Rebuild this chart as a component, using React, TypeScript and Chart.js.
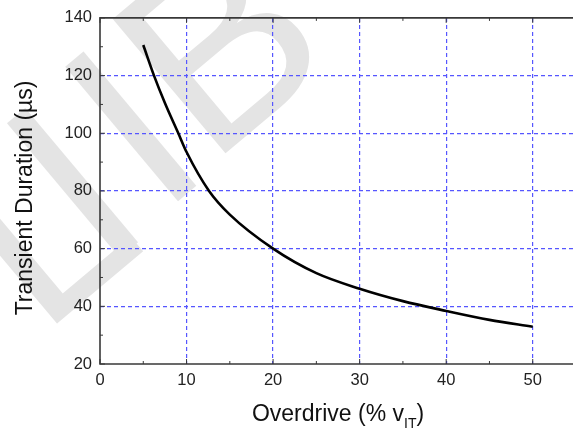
import React, { useEffect, useRef } from "react";
import { Chart, registerables } from "chart.js";

Chart.register(...registerables);

// Transient duration vs. overdrive
const overdrive = [5, 6.24, 7.5, 9.05, 10, 12.6, 15, 20, 25, 30, 35, 40, 45, 50];
const duration = [130.6, 120, 110.5, 100, 93.5, 80, 71.8, 60, 51.5, 46.1, 41.8, 38.4, 35.3, 32.9];
const xTicks = [0, 10, 20, 30, 40, 50];
const yTicks = [20, 40, 60, 80, 100, 120, 140];
const xMinor = [5, 15, 25, 35, 45];
const yMinor = [30, 50, 70, 90, 110, 130];

const X_MIN = 0;
const X_MAX = 55;
const Y_MIN = 20;
const Y_MAX = 140;

const FONT = '"Liberation Sans", Arial, Helvetica, sans-serif';
const GRID_BLUE = "#5656ff";
const FRAME = "#383838";

// background watermark glyphs: stem position along the text line and baseline shift
const markLetters = ["L", "I", "I", "B"];
const markStem = [-236, -143, -62, 4];
const markShift = [10, 0, -6, -12];
const markStemOffset = [0.12, 0.14, 0.14, 0.125];

const framePlugin = {
  id: "frameAndTitles",
  beforeDraw(chart: any) {
    const { ctx, width, height } = chart;
    ctx.save();
    ctx.fillStyle = "#ffffff";
    ctx.fillRect(0, 0, width, height);
    // faint diagonal watermark
    const size = 255;
    ctx.fillStyle = "#e4e4e4";
    ctx.font = `${size}px ${FONT}`;
    ctx.textBaseline = "alphabetic";
    ctx.textAlign = "left";
    ctx.translate(180, 88);
    ctx.rotate((-40 * Math.PI) / 180);
    markLetters.forEach((ch, i) => {
      ctx.fillText(
        ch,
        markStem[i] - markStemOffset[i] * size,
        0.358 * size + markShift[i]
      );
    });
    ctx.restore();
  },
  afterDraw(chart: any) {
    const { ctx, chartArea } = chart;
    const xs = chart.scales.x;
    const ys = chart.scales.y;
    const { left, right, top, bottom } = chartArea;
    ctx.save();
    ctx.strokeStyle = FRAME;
    ctx.lineWidth = 1.6;
    ctx.beginPath();
    ctx.moveTo(left, top);
    ctx.lineTo(right, top);
    ctx.lineTo(right, bottom);
    ctx.lineTo(left, bottom);
    ctx.closePath();
    ctx.stroke();

    // inward tick marks
    ctx.lineWidth = 1;
    ctx.beginPath();
    xMinor.forEach((v) => {
      const px = xs.getPixelForValue(v);
      ctx.moveTo(px, bottom);
      ctx.lineTo(px, bottom - 3);
      ctx.moveTo(px, top);
      ctx.lineTo(px, top + 3);
    });
    xTicks.forEach((v) => {
      const px = xs.getPixelForValue(v);
      ctx.moveTo(px, bottom);
      ctx.lineTo(px, bottom - 5);
      ctx.moveTo(px, top);
      ctx.lineTo(px, top + 5);
    });
    yMinor.forEach((v) => {
      const py = ys.getPixelForValue(v);
      ctx.moveTo(left, py);
      ctx.lineTo(left + 3, py);
    });
    yTicks.forEach((v) => {
      const py = ys.getPixelForValue(v);
      ctx.moveTo(left, py);
      ctx.lineTo(left + 5, py);
    });
    ctx.stroke();

    // axis titles
    ctx.fillStyle = "#111111";
    ctx.textBaseline = "alphabetic";
    ctx.font = `23px ${FONT}`;
    const main = "Overdrive (% v";
    const sub = "IT";
    const close = ")";
    const wMain = ctx.measureText(main).width;
    const wClose = ctx.measureText(close).width;
    ctx.font = `14px ${FONT}`;
    const wSub = ctx.measureText(sub).width;
    const total = wMain + wSub + wClose;
    const cx = (left + right) / 2;
    const x0 = cx - total / 2;
    const base = bottom + 57;
    ctx.textAlign = "left";
    ctx.font = `23px ${FONT}`;
    ctx.fillText(main, x0, base);
    ctx.font = `14px ${FONT}`;
    ctx.fillText(sub, x0 + wMain, base + 7);
    ctx.font = `23px ${FONT}`;
    ctx.fillText(close, x0 + wMain + wSub, base);

    ctx.translate(32, (top + bottom) / 2 + 7);
    ctx.rotate(-Math.PI / 2);
    ctx.textAlign = "center";
    ctx.fillText("Transient Duration (\u00b5s)", 0, 0);
    ctx.restore();
  },
};

export default function App() {
  const ref = useRef<HTMLCanvasElement | null>(null);

  useEffect(() => {
    if (!ref.current) return;
    const chart = new Chart(ref.current, {
      type: "line",
      data: {
        datasets: [
          {
            data: overdrive.map((x, i) => ({ x, y: duration[i] })),
            borderColor: "#000000",
            borderWidth: 2.6,
            pointRadius: 0,
            cubicInterpolationMode: "monotone",
            fill: false,
          },
        ],
      },
      options: {
        animation: false,
        responsive: false,
        events: [],
        layout: { padding: { top: 16, right: 24, left: 0, bottom: 0 } },
        plugins: { legend: { display: false }, tooltip: { enabled: false } },
        scales: {
          x: {
            type: "linear",
            min: X_MIN,
            max: X_MAX,
            afterBuildTicks: (axis: any) => {
              axis.ticks = xTicks.map((value) => ({ value }));
            },
            afterFit: (axis: any) => {
              axis.height = 71;
            },
            grid: {
              drawTicks: false,
              lineWidth: 1.2,
              color: (c: any) =>
                c.tick && c.tick.value === X_MIN ? "rgba(0,0,0,0)" : GRID_BLUE,
            },
            border: { display: false, dash: [4, 3] },
            ticks: {
              padding: 7,
              color: "#222222",
              font: { family: FONT, size: 16.5 },
              maxRotation: 0,
            },
          },
          y: {
            type: "linear",
            min: Y_MIN,
            max: Y_MAX,
            afterBuildTicks: (axis: any) => {
              axis.ticks = yTicks.map((value) => ({ value }));
            },
            afterFit: (axis: any) => {
              axis.width = 100;
            },
            grid: {
              drawTicks: false,
              lineWidth: 1.2,
              color: (c: any) =>
                c.tick && (c.tick.value === Y_MIN || c.tick.value === Y_MAX)
                  ? "rgba(0,0,0,0)"
                  : GRID_BLUE,
            },
            border: { display: false, dash: [4, 3] },
            ticks: {
              padding: 8,
              color: "#222222",
              font: { family: FONT, size: 16.5 },
            },
          },
        },
      },
      plugins: [framePlugin],
    });
    return () => chart.destroy();
  }, []);

  return (
    <div
      style={{
        position: "fixed",
        left: 0,
        top: 0,
        width: 573,
        height: 435,
        overflow: "hidden",
        background: "#ffffff",
      }}
    >
      <canvas
        ref={ref}
        width={600}
        height={435}
        style={{ display: "block", width: 600, height: 435 }}
      />
    </div>
  );
}
